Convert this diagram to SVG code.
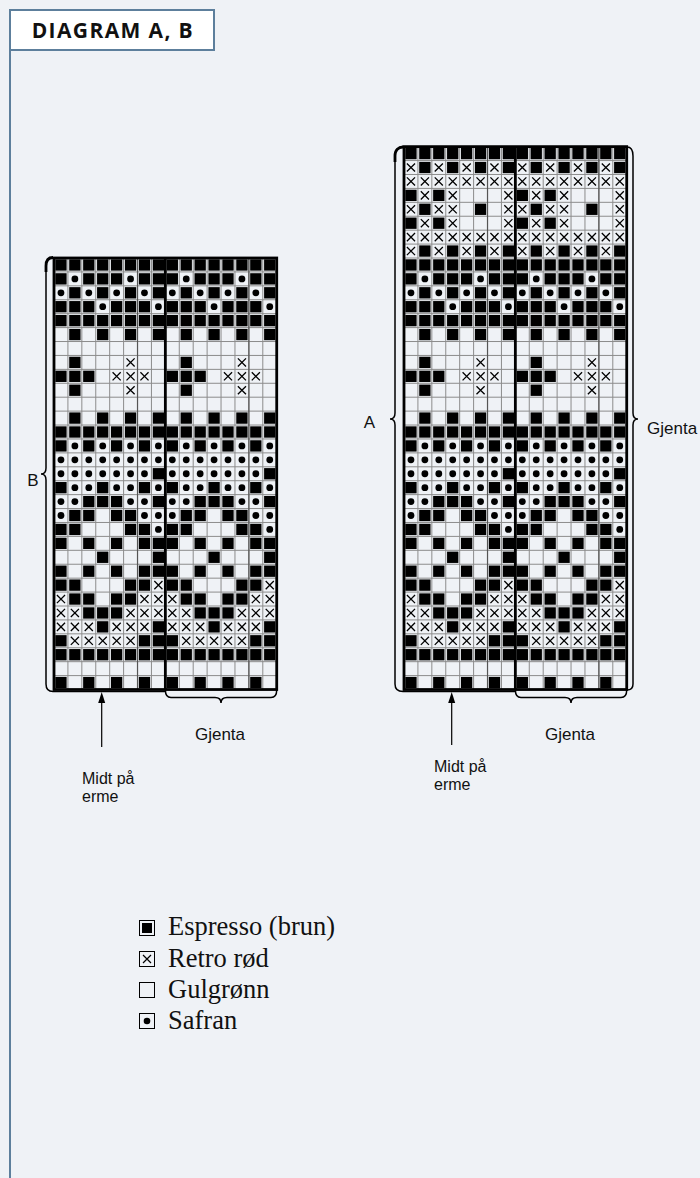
<svg xmlns="http://www.w3.org/2000/svg" width="700" height="1178" viewBox="0 0 700 1178">
<style>
.lbl{font-family:"Liberation Sans",Arial,sans-serif;font-size:17px;fill:#111}
.sm{font-size:16px}
.leg{font-family:"Liberation Serif","Times New Roman",serif;font-size:26.5px;fill:#111}
.grid{fill:none;stroke:#8c8c8c;stroke-width:1}
.dark{stroke:#555;stroke-width:1.2}
.border{fill:none;stroke:#000;stroke-width:2.8}
.brace{fill:none;stroke:#000;stroke-width:1.5}
.ico{fill:none;stroke:#000;stroke-width:1}
</style>
<defs>
<rect id="k" x="1.3" y="1.3" width="11.32" height="11.32" fill="#000"/>
<circle id="o" cx="6.96" cy="6.96" r="3.4" fill="#000"/>
<path id="x" d="M2.9 2.9L11.02 11.02M11.02 2.9L2.9 11.02" fill="none" stroke="#000" stroke-width="1.3"/>
<g id="rowK"><use href="#k"/><use href="#k" x="13.92"/><use href="#k" x="27.84"/><use href="#k" x="41.76"/><use href="#k" x="55.68"/><use href="#k" x="69.6"/><use href="#k" x="83.52"/><use href="#k" x="97.44"/></g>
<g id="rowO"><use href="#o"/><use href="#o" x="13.92"/><use href="#o" x="27.84"/><use href="#o" x="41.76"/><use href="#o" x="55.68"/><use href="#o" x="69.6"/><use href="#o" x="83.52"/><use href="#o" x="97.44"/></g>
<g id="rowX"><use href="#x"/><use href="#x" x="13.92"/><use href="#x" x="27.84"/><use href="#x" x="41.76"/><use href="#x" x="55.68"/><use href="#x" x="69.6"/><use href="#x" x="83.52"/><use href="#x" x="97.44"/></g>
<g id="rowS"><use href="#k" x="13.92"/><use href="#k" x="41.76"/><use href="#k" x="69.6"/><use href="#k" x="97.44"/></g>
<g id="rowT"><use href="#k"/><use href="#k" x="27.84"/><use href="#k" x="55.68"/><use href="#k" x="83.52"/><use href="#k" x="97.44"/></g>
<g id="rowXK"><use href="#x"/><use href="#k" x="13.92"/><use href="#x" x="27.84"/><use href="#k" x="41.76"/><use href="#x" x="55.68"/><use href="#k" x="69.6"/><use href="#x" x="83.52"/><use href="#k" x="97.44"/></g>
<g id="rowA4"><use href="#k"/><use href="#x" x="13.92"/><use href="#k" x="27.84"/><use href="#x" x="41.76"/><use href="#x" x="97.44"/></g>

<g id="halfB">
<use href="#rowK"/>
<g transform="translate(0,13.92)"><use href="#k"/><use href="#o" x="13.92"/><use href="#k" x="27.84"/><use href="#k" x="41.76"/><use href="#k" x="55.68"/><use href="#o" x="69.6"/><use href="#k" x="83.52"/><use href="#k" x="97.44"/></g>
<g transform="translate(0,27.84)"><use href="#o"/><use href="#k" x="13.92"/><use href="#o" x="27.84"/><use href="#k" x="41.76"/><use href="#o" x="55.68"/><use href="#k" x="69.6"/><use href="#o" x="83.52"/><use href="#k" x="97.44"/></g>
<g transform="translate(0,41.76)"><use href="#k"/><use href="#k" x="13.92"/><use href="#k" x="27.84"/><use href="#o" x="41.76"/><use href="#k" x="55.68"/><use href="#k" x="69.6"/><use href="#k" x="83.52"/><use href="#o" x="97.44"/></g>
<use href="#rowK" y="55.68"/>
<use href="#rowS" y="69.6"/>
<g transform="translate(0,97.44)"><use href="#k" x="13.92"/><use href="#x" x="69.6"/></g>
<g transform="translate(0,111.36)"><use href="#k"/><use href="#k" x="13.92"/><use href="#k" x="27.84"/><use href="#x" x="55.68"/><use href="#x" x="69.6"/><use href="#x" x="83.52"/></g>
<g transform="translate(0,125.28)"><use href="#k" x="13.92"/><use href="#x" x="69.6"/></g>
<use href="#rowS" y="153.12"/>
<use href="#rowK" y="167.04"/>
<g transform="translate(0,180.96)"><use href="#k"/><use href="#o" x="13.92"/><use href="#k" x="27.84"/><use href="#o" x="41.76"/><use href="#k" x="55.68"/><use href="#o" x="69.6"/><use href="#k" x="83.52"/><use href="#o" x="97.44"/></g>
<use href="#rowO" y="194.88"/>
<g transform="translate(0,208.8)"><use href="#o"/><use href="#o" x="13.92"/><use href="#o" x="27.84"/><use href="#o" x="41.76"/><use href="#o" x="55.68"/><use href="#o" x="69.6"/><use href="#o" x="83.52"/><use href="#k" x="97.44"/></g>
<g transform="translate(0,222.72)"><use href="#k"/><use href="#o" x="13.92"/><use href="#o" x="27.84"/><use href="#k" x="41.76"/><use href="#o" x="55.68"/><use href="#o" x="69.6"/><use href="#k" x="83.52"/><use href="#o" x="97.44"/></g>
<g transform="translate(0,236.64)"><use href="#o"/><use href="#o" x="13.92"/><use href="#k" x="27.84"/><use href="#k" x="41.76"/><use href="#k" x="55.68"/><use href="#o" x="69.6"/><use href="#o" x="83.52"/><use href="#k" x="97.44"/></g>
<g transform="translate(0,250.56)"><use href="#o"/><use href="#k" x="13.92"/><use href="#k" x="27.84"/><use href="#k" x="55.68"/><use href="#k" x="69.6"/><use href="#o" x="83.52"/><use href="#o" x="97.44"/></g>
<g transform="translate(0,264.48)"><use href="#k"/><use href="#k" x="13.92"/><use href="#k" x="69.6"/><use href="#k" x="83.52"/><use href="#o" x="97.44"/></g>
<use href="#rowT" y="278.4"/>
<g transform="translate(0,292.32)"><use href="#k" x="41.76"/><use href="#k" x="97.44"/></g>
<use href="#rowT" y="306.24"/>
<g transform="translate(0,320.16)"><use href="#k"/><use href="#k" x="13.92"/><use href="#k" x="69.6"/><use href="#k" x="83.52"/><use href="#x" x="97.44"/></g>
<g transform="translate(0,334.08)"><use href="#x"/><use href="#k" x="13.92"/><use href="#k" x="27.84"/><use href="#k" x="55.68"/><use href="#k" x="69.6"/><use href="#x" x="83.52"/><use href="#x" x="97.44"/></g>
<g transform="translate(0,348)"><use href="#x"/><use href="#x" x="13.92"/><use href="#k" x="27.84"/><use href="#k" x="41.76"/><use href="#k" x="55.68"/><use href="#x" x="69.6"/><use href="#x" x="83.52"/><use href="#x" x="97.44"/></g>
<g transform="translate(0,361.92)"><use href="#x"/><use href="#x" x="13.92"/><use href="#x" x="27.84"/><use href="#k" x="41.76"/><use href="#x" x="55.68"/><use href="#x" x="69.6"/><use href="#x" x="83.52"/><use href="#k" x="97.44"/></g>
<g transform="translate(0,375.84)"><use href="#k"/><use href="#x" x="13.92"/><use href="#x" x="27.84"/><use href="#x" x="41.76"/><use href="#x" x="55.68"/><use href="#x" x="69.6"/><use href="#k" x="83.52"/><use href="#k" x="97.44"/></g>
<use href="#rowK" y="389.76"/>
<g transform="translate(0,417.6)"><use href="#k"/><use href="#k" x="27.84"/><use href="#k" x="55.68"/><use href="#k" x="83.52"/></g>
</g>

<g id="halfT">
<use href="#rowK"/>
<use href="#rowXK" y="13.92"/>
<use href="#rowX" y="27.84"/>
<use href="#rowA4" y="41.76"/>
<g transform="translate(0,55.68)"><use href="#x"/><use href="#k" x="13.92"/><use href="#x" x="27.84"/><use href="#x" x="41.76"/><use href="#k" x="69.6"/><use href="#x" x="97.44"/></g>
<use href="#rowA4" y="69.6"/>
<use href="#rowX" y="83.52"/>
<use href="#rowXK" y="97.44"/>
</g>

<path id="gridB" class="grid" d="M13.92 0V431.52M27.84 0V431.52M41.76 0V431.52M55.68 0V431.52M69.6 0V431.52M83.52 0V431.52M97.44 0V431.52M111.36 0V431.52M125.28 0V431.52M139.2 0V431.52M153.12 0V431.52M167.04 0V431.52M180.96 0V431.52M194.88 0V431.52M208.8 0V431.52M0 13.92H222.72M0 27.84H222.72M0 41.76H222.72M0 55.68H222.72M0 69.6H222.72M0 83.52H222.72M0 97.44H222.72M0 111.36H222.72M0 125.28H222.72M0 139.2H222.72M0 153.12H222.72M0 167.04H222.72M0 180.96H222.72M0 194.88H222.72M0 208.8H222.72M0 222.72H222.72M0 236.64H222.72M0 250.56H222.72M0 264.48H222.72M0 278.4H222.72M0 292.32H222.72M0 306.24H222.72M0 320.16H222.72M0 334.08H222.72M0 348H222.72M0 361.92H222.72M0 375.84H222.72M0 389.76H222.72M0 403.68H222.72M0 417.6H222.72"/>
<path id="gridT" class="grid" d="M13.92 0V111.36M27.84 0V111.36M41.76 0V111.36M55.68 0V111.36M69.6 0V111.36M83.52 0V111.36M97.44 0V111.36M111.36 0V111.36M125.28 0V111.36M139.2 0V111.36M153.12 0V111.36M167.04 0V111.36M180.96 0V111.36M194.88 0V111.36M208.8 0V111.36M0 13.92H222.72M0 27.84H222.72M0 41.76H222.72M0 55.68H222.72M0 69.6H222.72M0 83.52H222.72M0 97.44H222.72M0 111.36H222.72"/>
</defs>

<rect x="0" y="0" width="700" height="1178" fill="#eff2f6"/>

<g id="frame">
<path d="M10 50V1178" fill="none" stroke="#5d7f9c" stroke-width="2"/>
<rect x="10" y="10" width="204" height="40" fill="#ffffff" stroke="#5d7f9c" stroke-width="2"/>
<text x="31.7" y="37.5" textLength="161" lengthAdjust="spacing" style="font-family:'Open Sans','Noto Sans',sans-serif;font-size:21px;font-weight:700;fill:#111">DIAGRAM A, B</text>
</g>

<g id="chart-b">
<use href="#gridB" x="54" y="258"/>
<use href="#halfB" x="54" y="258"/>
<use href="#halfB" x="165.36" y="258"/>
<path class="dark" d="M137.52 258V689.52M248.88 258V689.52"/>
<rect class="border" x="54" y="258" width="222.72" height="431.52"/>
<path d="M165.36 258V689.52" stroke="#000" stroke-width="2.8"/>
</g>

<g id="chart-a">
<use href="#gridT" x="404" y="146.64"/>
<use href="#gridB" x="404" y="258"/>
<use href="#halfT" x="404" y="146.64"/>
<use href="#halfT" x="515.36" y="146.64"/>
<use href="#halfB" x="404" y="258"/>
<use href="#halfB" x="515.36" y="258"/>
<path class="dark" d="M487.52 146.64V689.52M598.88 146.64V689.52"/>
<rect class="border" x="404" y="146.64" width="222.72" height="542.88"/>
<path d="M515.36 146.64V689.52" stroke="#000" stroke-width="2.8"/>
</g>

<g id="connectors">
<path class="brace" d="M53 257.5C48.5 257.5 46 260 46 266V468C46 472 44.5 474 41 474C44.5 474 46 476 46 480V684C46 689 48.5 691.5 53 691.5H165"/>
<path d="M53 257.5C48.5 257.5 46 260 46 266V272" fill="none" stroke="#000" stroke-width="2.8"/>
<path class="brace" d="M165.4 690C165.4 695 167 697.5 171 697.5H215C219 697.5 221 699.5 221 703C221 699.5 223 697.5 227 697.5H271C275 697.5 276.7 695 276.7 690"/>
<path class="brace" d="M403 147C398.5 147 395 150 395 156V413C395 417 393.5 419 390 419C393.5 419 395 421 395 425V684C395 689 397.5 691.5 403 691.5H515"/>
<path d="M403 147C398.5 147 395 150 395 156V162" fill="none" stroke="#000" stroke-width="2.8"/>
<path class="brace" d="M627 147C631 147 633 150 633 156V413C633 417 634.5 419 638 419C634.5 419 633 421 633 425V684C633 688 631 690 627 690"/>
<path class="brace" d="M515.4 690C515.4 695 517 697.5 521 697.5H565C569 697.5 571 699.5 571 703C571 699.5 573 697.5 577 697.5H621C625 697.5 626.7 695 626.7 690"/>
<path d="M101.7 702V747" stroke="#000" stroke-width="1.2"/>
<path d="M101.7 692L98.2 703H105.2Z" fill="#000"/>
<path d="M451.7 702V745" stroke="#000" stroke-width="1.2"/>
<path d="M451.7 692L448.2 703H455.2Z" fill="#000"/>
</g>

<g id="labels">
<text class="lbl" x="33" y="486" text-anchor="middle">B</text>
<text class="lbl" x="369.5" y="428" text-anchor="middle">A</text>
<text class="lbl" x="647" y="434">Gjenta</text>
<text class="lbl" x="220" y="740" text-anchor="middle">Gjenta</text>
<text class="lbl" x="570" y="740" text-anchor="middle">Gjenta</text>
<text class="lbl sm" x="82" y="784">Midt på</text>
<text class="lbl sm" x="82" y="802">erme</text>
<text class="lbl sm" x="434" y="772">Midt på</text>
<text class="lbl sm" x="434" y="790">erme</text>
</g>

<g id="legend">
<rect class="ico" x="139.5" y="920.5" width="15" height="15"/>
<rect x="142" y="923" width="10" height="10" fill="#000"/>
<text class="leg" x="168" y="935">Espresso (brun)</text>
<rect class="ico" x="139.5" y="951.5" width="15" height="15"/>
<path d="M143 955L151 963M151 955L143 963" stroke="#000" stroke-width="1.2"/>
<text class="leg" x="168" y="966.5">Retro rød</text>
<rect class="ico" x="139.5" y="982.5" width="15" height="15"/>
<text class="leg" x="168" y="997.5">Gulgrønn</text>
<rect class="ico" x="139.5" y="1013.5" width="15" height="15"/>
<circle cx="147" cy="1021" r="3.3" fill="#000"/>
<text class="leg" x="168" y="1028.5">Safran</text>
</g>
</svg>
